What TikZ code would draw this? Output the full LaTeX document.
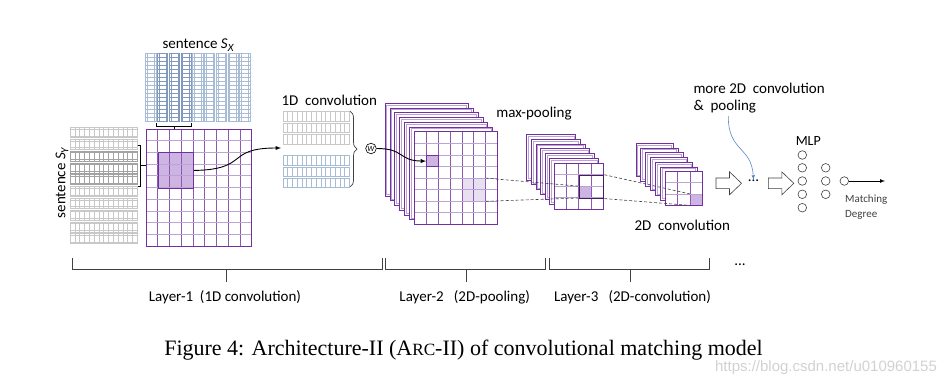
\documentclass[tikz,border=0pt]{standalone}
\usepackage{fontspec}
\setmainfont{Carlito}
\newfontfamily\capfont{Liberation Serif}
\newfontfamily\markfont{Liberation Sans}
\usetikzlibrary{positioning, decorations.pathreplacing}

\definecolor{pdark}{HTML}{7030A0}
\definecolor{plight}{HTML}{BBA3D4}
\definecolor{pfill}{HTML}{CDB4E2}
\definecolor{pfaint}{HTML}{E8E0F0}
\definecolor{sxline}{HTML}{A9BCD6}
\definecolor{sxdark}{HTML}{8199BD}
\definecolor{syline}{HTML}{C8C8C8}
\definecolor{sydark}{HTML}{A3A3A3}
\definecolor{noteblue}{HTML}{5A88C6}
\definecolor{inkgray}{HTML}{404040}

\newcommand{\sentvar}[1]{\textit{S}\raisebox{-0.4ex}{\fontsize{11}{11}\selectfont\itshape #1}}

\begin{document}
\begin{tikzpicture}[x=1pt, y=-1pt,
        every node/.style={font=\fontsize{15}{17.7}\selectfont, inner sep=0pt},
        cellline/.style={line width=0.4pt},
        vline/.style={pdark!80, line width=0.7pt},
        hline/.style={plight, line width=0.7pt},
        frame/.style={draw=pdark, fill=white, line width=0.8pt},
        frameinner/.style={draw=plight, line width=0.6pt},
        hlcell/.style={fill=pfill, draw=pdark, line width=0.8pt, anchor=north west},
        layerbrace/.style={inkgray, line width=0.8pt},
        neuron/.style={circle, draw=inkgray, line width=0.6pt, minimum size=8.6pt},
        hollow/.style={draw=inkgray, fill=white, line width=0.6pt, line join=miter},
        pooldash/.style={densely dashed, inkgray, line width=0.6pt}]

    \useasboundingbox (0,0) rectangle (945,386);

    % sentence S_X (columns)
    \node (sx) at (198,45) {sentence \sentvar{X}};
    \foreach \i/\c in {0/sxline,1/sxdark,2/sxdark,3/sxdark,4/sxline,5/sxline,6/sxline,7/sxline,8/sxline} {
        \draw[\c, cellline] (145.5+\i*11.75,52.7) rectangle ++(10.4,68);
        \draw[\c, cellline] (147.2+\i*11.75,52.7) -- ++(0,68);
        \draw[\c, cellline] (154.2+\i*11.75,52.7) -- ++(0,68);
        \foreach \r in {1,...,16}
            \draw[\c, cellline] (145.5+\i*11.75,52.7+\r*4) -- ++(10.4,0);
    }
    \draw[line width=0.7pt] (156,123.3) -- (156,126) -- (191.7,126) -- (191.7,123.3);
    \draw[line width=0.7pt] (173.9,126) -- (173.9,129);

    % sentence S_Y (rows)
    \node[rotate=90] (sy) at (62,183) {sentence \sentvar{Y}};
    \foreach \j/\c in {0/syline,1/syline,2/sydark,3/sydark,4/sydark,5/syline,6/syline,7/syline,8/syline,9/syline} {
        \draw[\c, cellline] (70,127.3+\j*11.8) rectangle ++(67.3,10);
        \draw[\c, cellline] (70,128.9+\j*11.8) -- ++(67.3,0);
        \draw[\c, cellline] (70,135.7+\j*11.8) -- ++(67.3,0);
        \foreach \r in {1,...,13}
            \draw[\c, cellline] (70+\r*4.8,127.3+\j*11.8) -- ++(0,10);
    }
    \draw[line width=0.7pt] (137.5,145) -- (140,145) -- (140,186) -- (137.5,186);
    \draw[line width=0.7pt] (140,165.5) -- (146,165.5);

    % interaction grid
    \fill[white] (146,129) rectangle ++(105.75,117);
    \fill[pfill] (157.75,152.4) rectangle ++(35.25,35.1);
    \foreach \i in {1,...,8}
        \draw[vline] (146+\i*11.75,129) -- ++(0,117);
    \foreach \j in {1,...,9}
        \draw[hline] (146,129+\j*11.7) -- ++(105.75,0);
    \draw[pdark, line width=0.9pt] (146,129) rectangle ++(105.75,117);
    \node[draw=pdark, line width=1pt, minimum width=35.25pt, minimum height=35.1pt,
          anchor=north west] (blk) at (157.75,152.4) {};

    % 1D convolution
    \node (conv1d) at (329.3,100.7) {1D\ \ convolution};
    \foreach \j in {0,1,2} {
        \draw[syline, cellline] (282.7,111+\j*11.7) rectangle ++(66.6,9.8);
        \foreach \r in {1,...,13}
            \draw[syline, cellline] (282.7+\r*4.757,111+\j*11.7) -- ++(0,9.8);
        \draw[sxline, cellline] (282.7,155.5+\j*11.2) rectangle ++(66.6,9.5);
        \foreach \r in {1,...,13}
            \draw[sxline, cellline] (282.7+\r*4.757,155.5+\j*11.2) -- ++(0,9.5);
    }
    \coordinate (c1in) at (281,148);
    \draw[decorate, decoration={brace, amplitude=7pt}, inkgray, line width=0.7pt]
        (350,111) -- (350,187);
    \node[circle, draw=black, line width=0.6pt, minimum size=10.6pt,
          font=\fontsize{8}{8}\selectfont] (w) at (371,148.5) {\textit{W}};
    \draw[-latex, line width=0.9pt] (blk.east) .. controls (250,169.5) and (225,148) .. (c1in);

    % Layer-2: 2D pooling input maps
    \node (maxpool) at (534,114) {max-pooling};
    \foreach \k in {6,...,1} {
        \draw[frame] (414.3-\k*4.88,131.7-\k*4.73) rectangle ++(83.3,92.7);
        \draw[frameinner] (416-\k*4.88,133.4-\k*4.73) rectangle ++(79.9,89.3);
    }
    \fill[white] (414.3,131.7) rectangle ++(83.3,92.7);
    \fill[pfaint] (461.9,178.1) rectangle ++(23.8,23.2);
    \foreach \i in {1,...,6}
        \draw[vline] (414.3+\i*11.9,131.7) -- ++(0,92.7);
    \foreach \j in {1,...,7}
        \draw[hline] (414.3,131.7+\j*11.59) -- ++(83.3,0);
    \draw[pdark, line width=0.9pt] (414.3,131.7) rectangle ++(83.3,92.7);
    \node[hlcell, minimum width=11.9pt, minimum height=11.59pt] (p2cell) at (426.2,154.9) {};
    \coordinate (p2ne) at (485.7,178.1);
    \coordinate (p2se) at (485.7,201.3);
    \draw[-latex, line width=0.9pt] (w.east) .. controls (405,148.5) and (398,160.7) .. (p2cell.west);

    % Layer-3: pooled maps
    \foreach \k in {6,...,1} {
        \draw[frame] (554.3-\k*4.6,163.3-\k*4.83) rectangle ++(49,45.7);
        \draw[frameinner] (556-\k*4.6,165-\k*4.83) rectangle ++(45.6,42.3);
    }
    \fill[white] (554.3,163.3) rectangle ++(49,45.7);
    \node[fill=pfill, minimum width=12.25pt, minimum height=11.43pt, anchor=north west]
        (p3cell) at (578.8,186.16) {};
    \foreach \i in {1,...,3}
        \draw[vline] (554.3+\i*12.25,163.3) -- ++(0,45.7);
    \foreach \j in {1,...,3}
        \draw[hline] (554.3,163.3+\j*11.43) -- ++(49,0);
    \draw[pdark, line width=0.9pt] (554.3,163.3) rectangle ++(49,45.7);
    \node[draw=pdark!60!black, line width=1pt, minimum width=24.5pt, minimum height=22.86pt,
          anchor=north west] (p3box) at (578.8,174.73) {};

    % 2D convolution maps
    \node (conv2d) at (682.3,225) {2D\ \ convolution};
    \foreach \k in {6,...,1} {
        \draw[frame] (665-\k*4.83,171.7-\k*4.73) rectangle ++(37.3,33.3);
        \draw[frameinner] (666.7-\k*4.83,173.4-\k*4.73) rectangle ++(33.9,29.9);
    }
    \fill[white] (665,171.7) rectangle ++(37.3,33.3);
    \node[fill=pfill, minimum width=12.43pt, minimum height=11.1pt, anchor=north west]
        (c3cell) at (689.9,193.9) {};
    \foreach \i in {1,2}
        \draw[vline] (665+\i*12.43,171.7) -- ++(0,33.3);
    \foreach \j in {1,2}
        \draw[hline] (665,171.7+\j*11.1) -- ++(37.3,0);
    \draw[pdark, line width=0.9pt] (665,171.7) rectangle ++(37.3,33.3);

    % pooling / convolution fields
    \draw[pooldash] (p2ne) -- (p3cell.north west);
    \draw[pooldash] (p2se) -- (p3cell.south west);
    \draw[pooldash] (p3box.north east) -- (c3cell.north west);
    \draw[pooldash] (p3box.south east) -- (c3cell.south west);

    % more layers and MLP
    \node[anchor=west, align=left] (more) at (693.3,98) {more 2D\ \ convolution\\\&\ \ pooling};
    \foreach \x in {716,768.3}
        \draw[hollow] (\x,178) -- (\x+13.5,178) -- (\x+13.5,171.8) -- (\x+25.5,183.3)
            -- (\x+13.5,194.8) -- (\x+13.5,188.6) -- (\x,188.6) -- cycle;
    \node (dots) at (753.5,181) {...};
    \draw[-latex, noteblue, line width=0.6pt] (728.3,116) .. controls (728,152) and (751.5,146) .. (dots.north);
    \node[font=\fontsize{14}{14}\selectfont] (mlp) at (808.3,140.7) {MLP};
    \foreach \n/\y in {1/155,2/167.8,3/181,4/194.3,5/207.7}
        \node[neuron] (ma\n) at (802.3,\y) {};
    \foreach \n/\y in {1/167.8,2/181,3/194.3}
        \node[neuron] (mb\n) at (825.7,\y) {};
    \node[neuron] (out) at (844.3,181) {};
    \coordinate (outend) at (885,181);
    \draw[-latex, line width=0.7pt] (out) -- (outend);
    \node[anchor=west, align=left, font=\fontsize{11}{15}\selectfont, inkgray] (match) at (845,206.8) {Matching\\Degree};

    % layer braces
    \draw[layerbrace] (72.3,258.3) -- (72.3,269.3) -- (382.3,269.3) -- (382.3,258.3);
    \draw[layerbrace] (226,269.3) -- (226,281.7);
    \draw[layerbrace] (385.7,258.3) -- (385.7,269.3) -- (545.7,269.3) -- (545.7,258.3);
    \draw[layerbrace] (466,269.3) -- (466,281.7);
    \draw[layerbrace] (549,258.3) -- (549,269.3) -- (709.3,269.3) -- (709.3,258.3);
    \draw[layerbrace] (630,269.3) -- (630,281.7);
    \node (etc) at (740,264.5) {...};
    \node (l1) at (225,297.7) {Layer-1\ \ (1D convolution)};
    \node (l2) at (464.7,297.7) {Layer-2\ \ \ (2D-pooling)};
    \node (l3) at (632.5,297.7) {Layer-3\ \ \ (2D-convolution)};

    % caption
    \node[font=\capfont\fontsize{22}{26}\selectfont] (cap) at (463.5,350.5)
        {Figure 4: Architecture-II (A{\fontsize{17.2}{17}\selectfont RC}-II) of convolutional matching model};
    \node[font=\markfont\fontsize{15}{15}\selectfont, black!18] (wm) at (826,367.5) {https://blog.csdn.net/u010960155};
\end{tikzpicture}
\end{document}
